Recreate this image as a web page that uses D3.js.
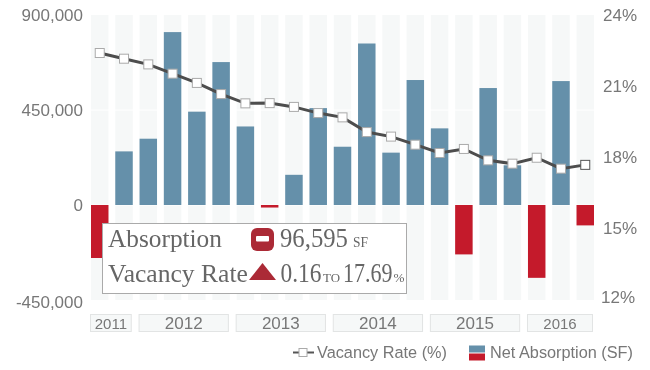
<!DOCTYPE html>
<html>
<head>
<meta charset="utf-8">
<script src="https://d3js.org/d3.v7.min.js"></script>
<style>
  html, body { margin: 0; padding: 0; background: #fff; }
  svg { display: block; filter: blur(0.35px); }
  .axis path, .axis line { display: none; }
  .axis text { fill: #777; font-family: "Liberation Sans", sans-serif; font-size: 17px; }
</style>
</head>
<body>
<div id="chart"></div>
<script>
const periods = ['2011 Q3', '2011 Q4', '2012 Q1', '2012 Q2', '2012 Q3', '2012 Q4', '2013 Q1',
  '2013 Q2', '2013 Q3', '2013 Q4', '2014 Q1', '2014 Q2', '2014 Q3', '2014 Q4', '2015 Q1',
  '2015 Q2', '2015 Q3', '2015 Q4', '2016 Q1', '2016 Q2', '2016 Q3'];
const absorption = [-251000, 254000, 314000, 819000, 442000, 677000, 372000, -12000, 143000,
  459000, 276000, 765000, 248000, 592000, 363000, -234000, 554000, 188000, -345000, 587000, -96595];
const vacancy = [22.4, 22.16, 21.92, 21.53, 21.14, 20.67, 20.28, 20.29, 20.13, 19.87, 19.69,
  19.07, 18.88, 18.54, 18.19, 18.36, 17.88, 17.74, 17.99, 17.53, 17.69];
const leftTicks = [-450000, 0, 450000, 900000];
const rightTicks = [12, 15, 18, 21, 24];
const years = ['2011', '2012', '2013', '2014', '2015', '2016'];

const width = 650, height = 370;
const plot = { left: 91, right: 594, top: 15, bottom: 300 };
const blue = '#6590aa', red = '#c41a2b', gray = '#777';

const svg = d3.select('#chart').append('svg')
  .attr('width', width)
  .attr('height', height);

// Scales
const x = d3.scaleBand()
  .domain(periods)
  .range([plot.left, plot.right])
  .paddingInner(0.28)
  .paddingOuter(0);

const y = d3.scaleLinear()
  .domain([-450000, 900000])
  .range([plot.bottom, plot.top]);

const yRate = d3.scaleLinear()
  .domain([12, 24])
  .range([plot.bottom, plot.top]);

// Pale column behind every period
svg.append('g').selectAll('rect')
  .data(periods)
  .join('rect')
  .attr('x', d => x(d))
  .attr('y', plot.top)
  .attr('width', x.bandwidth())
  .attr('height', plot.bottom - plot.top)
  .attr('fill', '#f6f8f8');

// White gridlines through the columns
svg.append('g').selectAll('line')
  .data(leftTicks.slice(1, 3))
  .join('line')
  .attr('x1', plot.left)
  .attr('x2', plot.right)
  .attr('y1', d => y(d))
  .attr('y2', d => y(d))
  .attr('stroke', '#fff');

// Bars
svg.append('g').selectAll('rect')
  .data(absorption)
  .join('rect')
  .attr('x', (d, i) => x(periods[i]))
  .attr('y', d => y(Math.max(d, 0)))
  .attr('width', x.bandwidth())
  .attr('height', d => Math.abs(y(d) - y(0)))
  .attr('fill', d => d < 0 ? red : blue);

// Axes
const leftAxis = svg.append('g')
  .attr('class', 'axis')
  .attr('transform', `translate(${plot.left - 8},0)`)
  .call(d3.axisLeft(y).tickValues(leftTicks).tickSize(0).tickPadding(0)
    .tickFormat(d => d3.format(',')(d).replace('\u2212', '-')));

// Bottom label sits a little low in the original
leftAxis.selectAll('.tick text').attr('dy', d => d === -450000 ? '0.45em' : '0.3em');

const rightAxis = svg.append('g')
  .attr('class', 'axis')
  .attr('transform', `translate(${plot.right + 9},0)`)
  .call(d3.axisRight(yRate).tickValues(rightTicks).tickSize(0).tickPadding(0).tickFormat(d => d + '%'));

rightAxis.selectAll('.tick text')
  .attr('dy', d => d === 12 ? '0.12em' : '0.3em')
  .attr('x', d => d === 12 ? -2 : 0);

// Vacancy line
const line = d3.line()
  .x((d, i) => x(periods[i]) + x.bandwidth() / 2)
  .y(d => yRate(d));

svg.append('path')
  .datum(vacancy)
  .attr('d', line)
  .attr('fill', 'none')
  .attr('stroke', '#4d4d4d')
  .attr('stroke-width', 3);

svg.append('g').selectAll('rect')
  .data(vacancy)
  .join('rect')
  .attr('x', (d, i) => x(periods[i]) + x.bandwidth() / 2 - 4.5)
  .attr('y', d => yRate(d) - 4.5)
  .attr('width', 9)
  .attr('height', 9)
  .attr('fill', '#fff')
  .attr('stroke', (d, i) => i === vacancy.length - 1 ? '#555' : '#aaa');

// Year boxes under the plot
const yearGroups = years.map(year => {
  const members = periods.filter(p => p.startsWith(year));
  return { year, x0: x(members[0]), x1: x(members[members.length - 1]) + x.bandwidth(), n: members.length };
});

const yearG = svg.append('g').selectAll('g')
  .data(yearGroups)
  .join('g');

yearG.append('rect')
  .attr('x', d => d.x0 - 0.5)
  .attr('y', 314.5)
  .attr('width', d => d.x1 - d.x0 - 1)
  .attr('height', 17)
  .attr('fill', '#f6f8f8')
  .attr('stroke', '#e2e4e4');

yearG.append('text')
  .attr('x', d => (d.x0 + d.x1) / 2 - 1)
  .attr('y', 329)
  .attr('text-anchor', 'middle')
  .attr('fill', gray)
  .attr('font-family', '"Liberation Sans", sans-serif')
  .attr('font-size', d => d.n < 4 ? 15 : 17)
  .text(d => d.year);

// Legend
const legend = svg.append('g')
  .attr('font-family', '"Liberation Sans", sans-serif')
  .attr('font-size', 16.3)
  .attr('fill', gray);

legend.append('line')
  .attr('x1', 293).attr('x2', 314)
  .attr('y1', 352.5).attr('y2', 352.5)
  .attr('stroke', '#555').attr('stroke-width', 2);

legend.append('rect')
  .attr('x', 299).attr('y', 348.5)
  .attr('width', 8).attr('height', 8)
  .attr('fill', '#fff').attr('stroke', '#aaa');

legend.append('text').attr('x', 317).attr('y', 358).text('Vacancy Rate (%)');

legend.append('rect')
  .attr('x', 469).attr('y', 345.5)
  .attr('width', 16).attr('height', 7)
  .attr('fill', blue);

legend.append('rect')
  .attr('x', 469).attr('y', 353.5)
  .attr('width', 16).attr('height', 7)
  .attr('fill', red);

legend.append('text').attr('x', 490).attr('y', 358).text('Net Absorption (SF)');

// Fixed callout over the bars
const note = svg.append('g')
  .attr('font-family', '"Liberation Serif", serif')
  .attr('fill', '#666');

note.append('rect')
  .attr('x', 102.5).attr('y', 223.5)
  .attr('width', 304).attr('height', 70)
  .attr('fill', '#fff')
  .attr('stroke', '#aaa');

// The original serif is narrower than Liberation, so squeeze each run to its width
function fitText(label, px, py, size, targetWidth) {
  const t = note.append('text').attr('font-size', size).text(label);
  const sx = targetWidth / t.node().getComputedTextLength();
  t.attr('transform', `translate(${px},${py}) scale(${sx},1)`);
}

fitText('Absorption', 108, 247, 26, 114);
fitText('Vacancy Rate', 108, 282, 26, 140);

note.append('rect')
  .attr('x', 251).attr('y', 228)
  .attr('width', 23).attr('height', 23)
  .attr('rx', 6)
  .attr('fill', '#ab2a36');

note.append('rect')
  .attr('x', 256).attr('y', 236)
  .attr('width', 13).attr('height', 5.5)
  .attr('rx', 1)
  .attr('fill', '#fff');

note.append('path')
  .attr('d', 'M262.5,263 L276,280 L249,280 Z')
  .attr('fill', '#ab2a36');

fitText('96,595', 280, 247, 27, 68);
fitText('SF', 353, 247, 14, 15);
fitText('0.16', 280.5, 282, 27, 41);
fitText('TO', 323, 282, 13, 17);
fitText('17.69', 343, 282, 27, 49.5);
fitText('%', 393.5, 282, 13, 11);
</script>
</body>
</html>
